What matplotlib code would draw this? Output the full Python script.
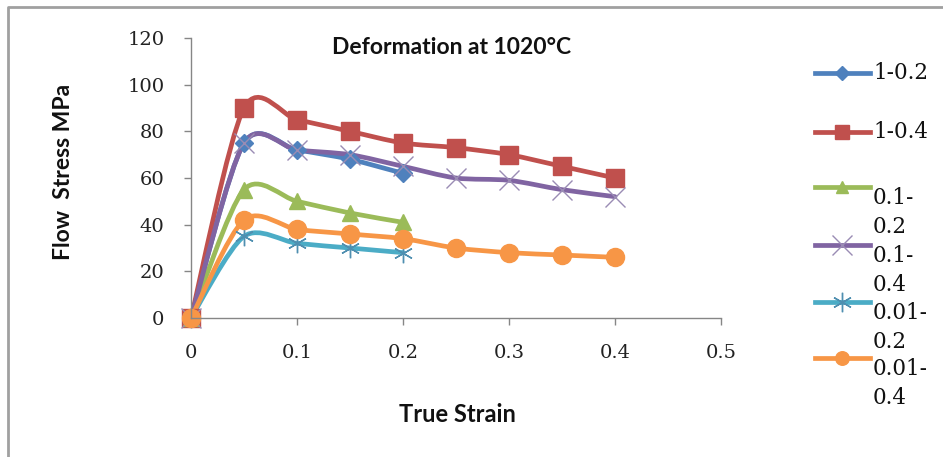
import numpy as np
import matplotlib
matplotlib.use("Agg")
import matplotlib.pyplot as plt
from matplotlib.path import Path
from matplotlib.patches import PathPatch
from matplotlib.lines import Line2D

# ---- data ----
strain_short = [0, 0.05, 0.1, 0.15, 0.2]
strain_long = [0, 0.05, 0.1, 0.15, 0.2, 0.25, 0.3, 0.35, 0.4]

s_1_02 = [0, 75, 72, 68, 62]
s_1_04 = [0, 90, 85, 80, 75, 73, 70, 65, 60]
s_01_02 = [0, 55, 50, 45, 41]
s_01_04 = [0, 75, 72, 70, 65, 60, 59, 55, 52]
s_001_02 = [0, 35, 32, 30, 28]
s_001_04 = [0, 42, 38, 36, 34, 30, 28, 27, 26]

labels = ["1-0.2", "1-0.4", "0.1-\n0.2", "0.1-\n0.4", "0.01-\n0.2", "0.01-\n0.4"]
xticks = [0, 0.1, 0.2, 0.3, 0.4, 0.5]
xticklabels = ["0", "0.1", "0.2", "0.3", "0.4", "0.5"]
yticks = [0, 20, 40, 60, 80, 100, 120]
yticklabels = ["0", "20", "40", "60", "80", "100", "120"]

series = [
    (strain_short, s_1_02, "#4F81BD", "D", 9, "#4F81BD"),
    (strain_long, s_1_04, "#C0504D", "s", 13, "#C0504D"),
    (strain_short, s_01_02, "#9BBB59", "^", 12, "#9BBB59"),
    (strain_long, s_01_04, "#8064A2", "x", 14, "#9a8cb4"),
    (strain_short, s_001_02, "#4BACC6", (6, 2, 0), 14, "#4f8fb0"),
    (strain_long, s_001_04, "#F79646", "o", 13, "#F79646"),
]

W, H = 943, 457
fig = plt.figure(figsize=(W / 100, H / 100), dpi=100)
fig.patch.set_facecolor("white")

def fx(px):
    return px / W

def fy(py):
    return 1 - py / H

ax = fig.add_axes([fx(191), fy(318), fx(721) - fx(191), fy(38) - fy(318)])
ax.set_xlim(0, 0.5)
ax.set_ylim(0, 120)
for sp in ["top", "right"]:
    ax.spines[sp].set_visible(False)
for sp in ["left", "bottom"]:
    ax.spines[sp].set_color("#868686")
    ax.spines[sp].set_linewidth(1.0)
ax.set_xticks(xticks)
ax.set_xticklabels(xticklabels)
ax.set_yticks(yticks)
ax.set_yticklabels(yticklabels)
ax.tick_params(direction="out", length=5, color="#868686", width=1.0,
               labelsize=14, pad=14)
for lab in ax.get_xticklabels() + ax.get_yticklabels():
    lab.set_fontfamily("DejaVu Serif")
    lab.set_color("#222222")


def smooth(xs, ys, k=1.0 / 7.0):
    pts = np.column_stack([xs, ys]).astype(float)
    n = len(pts)
    verts = [pts[0]]
    codes = [Path.MOVETO]
    for i in range(n - 1):
        p0 = pts[i - 1] if i > 0 else pts[i]
        p1 = pts[i]
        p2 = pts[i + 1]
        p3 = pts[i + 2] if i + 2 < n else pts[i + 1]
        c1 = p1 + (p2 - p0) * k
        c2 = p2 - (p3 - p1) * k
        verts += [c1, c2, p2]
        codes += [Path.CURVE4] * 3
    return Path(verts, codes)


for xs, ys, col, mk, ms, mcol in series:
    patch = PathPatch(smooth(xs, ys), fill=False, edgecolor=col, lw=3.4,
                      transform=ax.transData, clip_on=False, capstyle="round",
                      joinstyle="round")
    ax.add_patch(patch)
    if mk in ("x",) or isinstance(mk, tuple):
        ax.plot(xs, ys, linestyle="none", marker=mk, markersize=ms,
                markeredgecolor=mcol, markeredgewidth=1.0, clip_on=False)
    else:
        ax.plot(xs, ys, linestyle="none", marker=mk, markersize=ms,
                markerfacecolor=col, markeredgecolor=col, clip_on=False)

# title and axis labels
fig.text(fx(452), fy(47), "Deformation at 1020°C", ha="center", va="center",
         fontsize=16.5, fontfamily="Lato", fontweight="bold", color="#111111")
fig.text(fx(64), fy(172), "Flow  Stress MPa", ha="center", va="center",
         rotation=90, fontsize=16.5, fontfamily="Lato", fontweight="bold",
         color="#111111")
fig.text(fx(457), fy(414), "True Strain", ha="center", va="center",
         fontsize=17, fontfamily="Lato", fontweight="bold", color="#111111")

# legend (manual)
entry_y = [73, 132, 187, 245, 302, 358]
for (xs, ys, col, mk, ms, mcol), lab, yy in zip(series, labels, entry_y):
    fig.add_artist(Line2D([fx(815), fx(870)], [fy(yy), fy(yy)], color=col,
                          lw=3.4, transform=fig.transFigure))
    if mk in ("x",) or isinstance(mk, tuple):
        fig.add_artist(Line2D([fx(842)], [fy(yy)], linestyle="none", marker=mk,
                              markersize=ms, markeredgecolor=mcol,
                              markeredgewidth=1.0, transform=fig.transFigure))
    else:
        fig.add_artist(Line2D([fx(842)], [fy(yy)], linestyle="none", marker=mk,
                              markersize=ms * 0.75, markerfacecolor=col,
                              markeredgecolor=col, transform=fig.transFigure))
    fig.text(fx(873), fy(yy), lab, ha="left", va="top" if "\n" in lab else "center",
             fontsize=15.5, fontfamily="DejaVu Serif", color="#111111",
             linespacing=1.4)

# chart border (left and top visible)
fig.add_artist(Line2D([fx(8), fx(8), fx(943)], [0, fy(7), fy(7)],
                      color="#a0a0a0", lw=2, transform=fig.transFigure))

fig.savefig("out.png", dpi=100, facecolor="white")
